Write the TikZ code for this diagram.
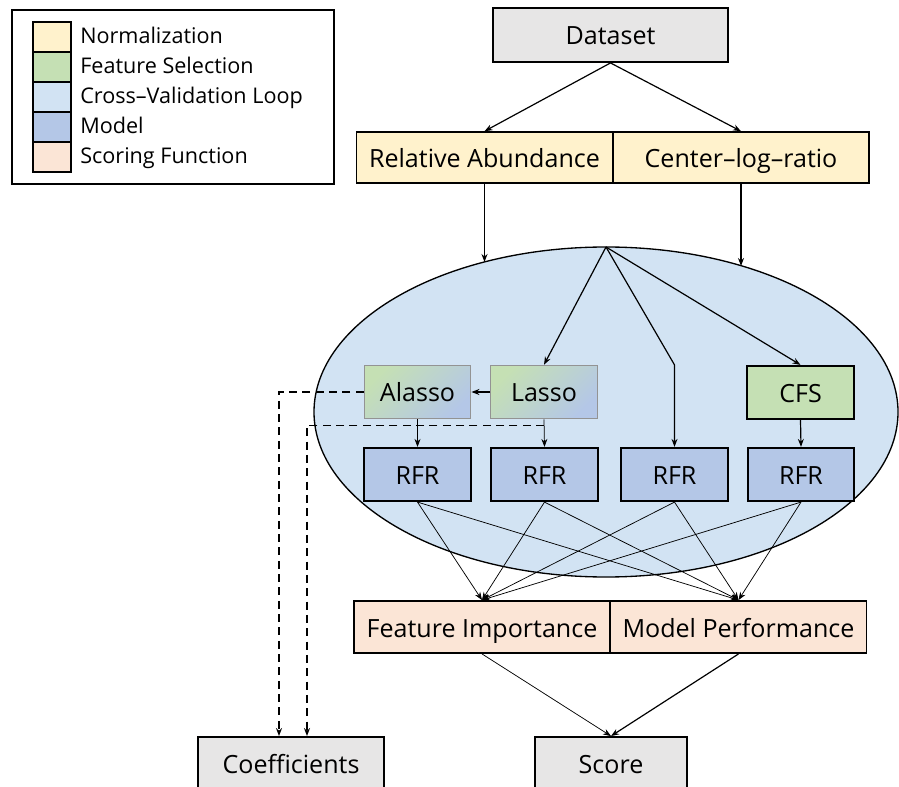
\documentclass[tikz,border=0pt]{standalone}
\usepackage{fontspec}
\setmainfont{Open Sans}
\usetikzlibrary{arrows.meta}
\definecolor{normyellow}{HTML}{FFF2CC}
\definecolor{fsgreen}{HTML}{C5E0B4}
\definecolor{cvblue}{HTML}{D2E3F3}
\definecolor{modblue}{HTML}{B4C7E7}
\definecolor{scorepeach}{HTML}{FBE5D6}
\definecolor{dsgray}{HTML}{E7E6E6}
\tikzset{
  box/.style={draw, line width=1.4pt, inner sep=0pt, minimum height=39pt, text height=15pt, text depth=0pt},
  swatch/.style={draw, line width=1.1pt, inner sep=0pt, minimum width=28.5pt, minimum height=22.5pt},
  fsmodel/.style={box, draw=gray!85, line width=0.9pt, top color=fsgreen, bottom color=modblue, shading angle=45},
  link/.style={->, line width=0.9pt},
  thinlink/.style={->, line width=0.55pt},
  dashlink/.style={->, line width=1.1pt, dash pattern=on 6pt off 4pt}
}
\begin{document}
\begin{tikzpicture}[x=0.75pt, y=-0.75pt, font=\fontsize{18.8}{22}\selectfont,
  >={Stealth[length=6pt,width=4.5pt]}]
\useasboundingbox (0,0) rectangle (899,787);
\draw[line width=1pt, fill=cvblue] (606,412) ellipse [x radius=292, y radius=165];
\coordinate (apex) at (606,247);
\draw[line width=0.8pt] (12,10) rectangle (334,184);
\foreach \c/\t [count=\i] in {normyellow/Normalization, fsgreen/Feature Selection,
    cvblue/Cross–Validation Loop, modblue/Model, scorepeach/Scoring Function} {
  \node[swatch, fill=\c] (sw\i) at (52,7+30*\i) {};
  \node[anchor=west, inner sep=0pt, text height=10.5pt, text depth=0pt,
    font=\fontsize{16.2}{19}\selectfont] (lg\i) at (80,7+30*\i) {\t};
}
\node[box, fill=dsgray, minimum width=176pt, minimum height=40.5pt] (dataset) at (610.5,35) {Dataset};
\node[box, fill=normyellow, minimum width=192pt, minimum height=38pt] (ra) at (484.5,157.5) {Relative Abundance};
\node[box, fill=normyellow, minimum width=192pt, minimum height=38pt] (clr) at (741,157.5) {Center–log–ratio};
\node[fsmodel, minimum width=80pt, minimum height=40pt] (alasso) at (417.5,392) {Alasso};
\node[fsmodel, minimum width=80pt, minimum height=40pt] (lasso) at (544,392) {Lasso};
\node[box, fill=fsgreen, minimum width=80pt, minimum height=40pt] (cfs) at (800.5,392.5) {CFS};
\node[box, fill=modblue, minimum width=80pt, minimum height=40pt] (rfr1) at (417.5,474.5) {RFR};
\node[box, fill=modblue, minimum width=80pt, minimum height=40pt] (rfr2) at (544.5,474.5) {RFR};
\node[box, fill=modblue, minimum width=80pt, minimum height=40pt] (rfr3) at (674.5,474.5) {RFR};
\node[box, fill=modblue, minimum width=80pt, minimum height=40pt] (rfr4) at (801,474.5) {RFR};
\node[box, fill=scorepeach, minimum width=192pt] (fi) at (482,627) {Feature Importance};
\node[box, fill=scorepeach, minimum width=192pt] (mp) at (738.5,627) {Model Performance};
\node[box, fill=dsgray, minimum width=139.5pt] (coef) at (291,763) {Coefficients};
\node[box, fill=dsgray, minimum width=114pt] (score) at (611,763) {Score};
\coordinate (rain) at (484.5,262);
\coordinate (clrin) at (741,266);
\draw[link] (dataset.south) -- (ra.north);
\draw[link] (dataset.south) -- (clr.north);
\draw[link] (ra.south) -- (rain);
\draw[link] (clr.south) -- (clrin);
\draw[link] (apex) -- (lasso.north);
\draw[link] (apex) -- (rfr3.north |- cfs.north) -- (rfr3.north);
\draw[link] (apex) -- (cfs.north);
\draw[link] (lasso.west) -- (alasso.east);
\draw[thinlink] (alasso.south) -- (rfr1.north);
\draw[thinlink] (lasso.south) -- (rfr2.north);
\draw[link] (cfs.south) -- (rfr4.north);
\draw[dashlink] (alasso.west) -| ([xshift=-9pt]coef.north);
\draw[dashlink] ([yshift=-4.5pt]lasso.south) -| ([xshift=12pt]coef.north);
\foreach \r in {1,...,4} {
  \draw[thinlink] (rfr\r.south) -- (fi.north);
  \draw[thinlink] (rfr\r.south) -- (mp.north);
}
\draw[thinlink] (fi.south) -- (score.north);
\draw[link] (mp.south) -- (score.north);
\end{tikzpicture}
\end{document}
